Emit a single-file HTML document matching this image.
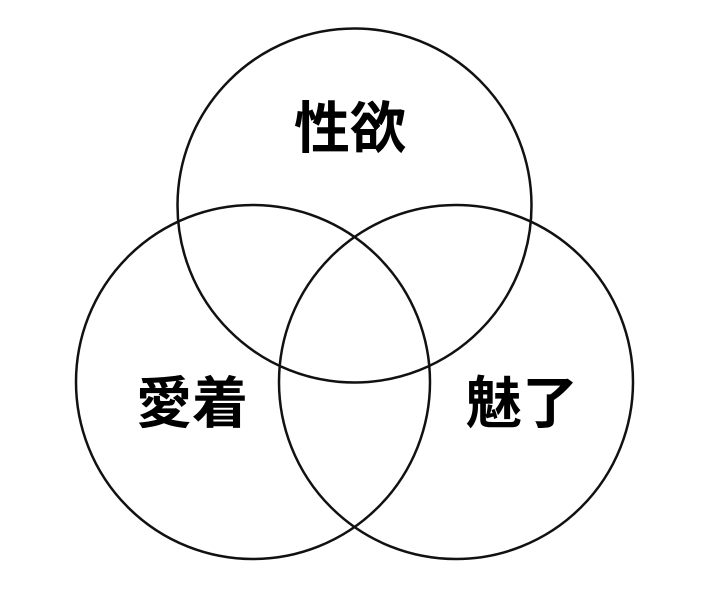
<!DOCTYPE html>
<html><head><meta charset="utf-8"><style>
html,body{margin:0;padding:0;background:#fff;width:716px;height:600px;overflow:hidden}
</style></head><body>
<svg width="716" height="600" xmlns="http://www.w3.org/2000/svg">
<g fill="none" stroke="#111" stroke-width="2.5">
<circle cx="354.5" cy="205.5" r="177"/>
<circle cx="253" cy="382" r="177"/>
<circle cx="456" cy="382" r="177"/>
</g>
<g font-family="'Liberation Sans','Noto Sans CJK JP',sans-serif" font-weight="bold" font-size="56" fill="#000" text-anchor="middle">
<text x="350" y="148">性欲</text>
<text x="192" y="423">愛着</text>
<text x="522" y="423">魅了</text>
</g>
</svg>
</body></html>
